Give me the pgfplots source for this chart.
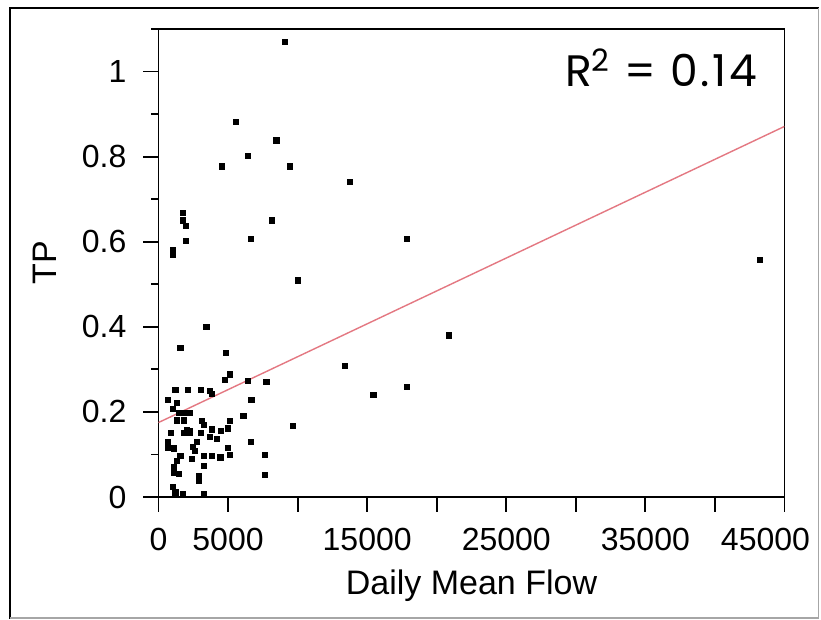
\documentclass[border=0pt]{standalone}
\usepackage{pgfplots}
\pgfplotsset{compat=1.18}
\usepackage{fontspec}
\setmainfont{Liberation Sans}
\newfontfamily\rfont[LetterSpace=6]{Poppins}
\definecolor{regred}{RGB}{228,120,130}
\begin{document}
\begin{tikzpicture}
\path[use as bounding box] (-79.25pt,-61.5pt) rectangle (331.25pt,248.5pt);
\fill[white] (-79.25pt,-61.5pt) rectangle (331.25pt,248.5pt);
\draw[line width=1.2pt] (-74.25pt,-61pt) -- (-74.25pt,244.5pt) -- (330pt,244.5pt);
\draw[black!35, line width=0.6pt] (330pt,244.5pt) -- (330pt,-60.5pt) -- (-74.25pt,-60.5pt);
\begin{axis}[
  scale only axis, width=313pt, height=234pt,
  xmin=0, xmax=45000, ymin=0, ymax=1.1,
  axis line style={line width=0.9pt},
  tick pos=left, tick align=outside,
  major tick length=7.5pt, minor tick length=3.5pt,
  every tick/.style={black, line width=0.9pt},
  scaled x ticks=false,
  xtick={0,5000,10000,15000,20000,25000,30000,35000,40000,45000},
  xticklabels={0,5000,,15000,,25000,,35000,,\hspace*{-19pt}45000},
  ytick={0,0.2,0.4,0.6,0.8,1},
  yticklabels={0,0.2,0.4,0.6,0.8,1},
  minor ytick={0.1,0.3,0.5,0.7,0.9,1.1},
  ticklabel style={font=\fontsize{16}{18}\selectfont},
  xticklabel style={yshift=-4.5pt},
  yticklabel style={xshift=-5pt},
  xlabel={Daily Mean Flow}, ylabel={TP},
  xlabel style={font=\fontsize{17}{19}\selectfont, at={(axis description cs:0.5,0)}, anchor=base, yshift=-49pt},
  ylabel style={font=\fontsize{17}{19}\selectfont, at={(axis description cs:-0.182,0.5)}, anchor=center},
]
\addplot[regred, line width=0.7pt] coordinates {(0,0.175) (45000,0.871)};
\addplot[only marks, mark=square*, mark size=1.3pt, black] table {
x y
9060 1.07
5540 0.881
8480 0.838
6420 0.802
4580 0.777
9470 0.777
13750 0.741
1750 0.667
1750 0.650
1990 0.638
1990 0.601
1030 0.581
1030 0.569
6660 0.607
8160 0.650
10040 0.509
3450 0.399
1580 0.350
4820 0.339
13420 0.309
17880 0.607
43230 0.557
20890 0.380
15450 0.240
17880 0.258
5130 0.288
4750 0.276
6440 0.272
7760 0.270
6680 0.228
6100 0.190
9670 0.167
5150 0.178
5010 0.161
6660 0.130
7630 0.099
7630 0.052
5010 0.116
5150 0.099
1220 0.251
2130 0.251
3070 0.251
3690 0.249
3860 0.243
670 0.228
1340 0.222
1055 0.208
1460 0.198
1820 0.198
2250 0.198
1340 0.180
1820 0.180
3140 0.179
2060 0.157
2250 0.155
1820 0.150
2250 0.150
3260 0.170
3850 0.159
4460 0.155
913 0.150
3020 0.150
3690 0.141
4200 0.136
670 0.130
2780 0.130
670 0.116
1100 0.114
2500 0.118
2600 0.108
1580 0.097
3250 0.097
3850 0.097
4450 0.093
2420 0.089
1340 0.085
3250 0.073
1100 0.070
1100 0.058
1460 0.054
2900 0.050
2900 0.038
1055 0.023
1220 0.011
1780 0.007
3250 0.007
};
\node[anchor=base west, inner sep=0pt, font=\rfont\fontsize{22}{24}\selectfont] at (axis description cs:0.649,0.877) {R\textsuperscript{2}\hspace{7pt}=\hspace{7pt}0.14};
\end{axis}
\end{tikzpicture}
\end{document}
